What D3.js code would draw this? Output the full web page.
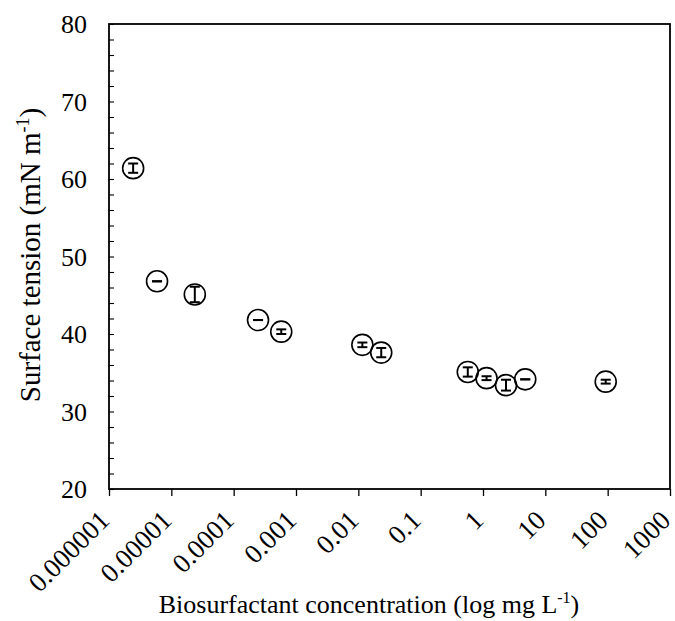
<!DOCTYPE html>
<html>
<head>
<meta charset="utf-8">
<script src="https://cdn.jsdelivr.net/npm/d3@7"></script>
<style>
  body { margin: 0; background: #fff; }
  svg text { font-family: "Liberation Serif", "Times New Roman", serif; fill: #000; }
</style>
</head>
<body>
<div id="chart"></div>
<script>
// concentration (mg/L), surface tension (mN/m) and its error
const concentration = [0.00000244, 0.0000059, 0.0000238, 0.000246, 0.00058, 0.0116, 0.0233, 0.57, 1.14, 2.34, 4.76, 93];
const tension = [61.4, 46.8, 45.1, 41.8, 40.3, 38.6, 37.6, 35.1, 34.3, 33.4, 34.15, 33.85];
const tensionErr = [0.6, 0, 1.0, 0, 0.3, 0.3, 0.6, 0.6, 0.25, 0.7, 0, 0.25];
const xTicks = [0.000001, 0.00001, 0.0001, 0.001, 0.01, 0.1, 1, 10, 100, 1000];
const xTickLabels = ["0.000001", "0.00001", "0.0001", "0.001", "0.01", "0.1", "1", "10", "100", "1000"];
const yTicks = [20, 30, 40, 50, 60, 70, 80];

const W = 675, H = 621;
const margin = { top: 24, right: 5, bottom: 132, left: 109 },
    width = W - margin.left - margin.right,
    height = H - margin.top - margin.bottom;

const svg = d3.select("#chart").append("svg")
    .attr("width", W)
    .attr("height", H)
    .attr("font-family", "'Liberation Serif', 'Times New Roman', serif");

const g = svg.append("g")
    .attr("transform", `translate(${margin.left},${margin.top})`);

const x = d3.scaleLog().domain([0.000001, 1000]).range([0, width]);
const y = d3.scaleLinear().domain([20, 80]).range([height, 0]);

// frame
g.append("rect")
    .attr("width", width).attr("height", height)
    .attr("fill", "none").attr("stroke", "#000").attr("stroke-width", 1.8);

// x axis: ticks outside, rotated labels
const xAxis = g.append("g")
    .attr("transform", `translate(0,${height})`)
    .call(d3.axisBottom(x).tickValues(xTicks).tickSize(7).tickFormat(""));
xAxis.select(".domain").remove();
xAxis.selectAll(".tick line").attr("stroke", "#000").attr("stroke-width", 1.3);

g.append("g").selectAll("text")
    .data(xTicks)
    .join("text")
    .attr("transform", (d) => `translate(${x(d) + 2},${height + 33}) rotate(-45)`)
    .attr("text-anchor", "end")
    .attr("font-size", 27)
    .text((d, i) => xTickLabels[i]);

// y axis: ticks inside every 2 units
const yAxis = g.append("g")
    .call(d3.axisRight(y).tickValues(d3.range(20, 81, 2)).tickSize(5).tickFormat(""));
yAxis.select(".domain").remove();
yAxis.selectAll(".tick line").attr("stroke", "#000").attr("stroke-width", 1.1);

g.append("g").selectAll("text")
    .data(yTicks)
    .join("text")
    .attr("x", -22)
    .attr("y", (d) => y(d))
    .attr("dy", "0.35em")
    .attr("text-anchor", "end")
    .attr("font-size", 26)
    .text((d) => d);

// points with error bars
const pts = g.append("g").selectAll("g")
    .data(concentration.map((c, i) => ({ c, t: tension[i], e: tensionErr[i] })))
    .join("g")
    .attr("transform", (d) => `translate(${x(d.c)},${y(d.t)})`);

pts.append("circle")
    .attr("r", 10.5)
    .attr("fill", "none")
    .attr("stroke", "#000")
    .attr("stroke-width", 1.6);

pts.append("line")
    .attr("y1", (d) => y(d.t - d.e) - y(d.t))
    .attr("y2", (d) => y(d.t + d.e) - y(d.t))
    .attr("stroke", "#000").attr("stroke-width", 2);
pts.append("line")
    .attr("x1", -5).attr("x2", 5)
    .attr("y1", (d) => y(d.t - d.e) - y(d.t))
    .attr("y2", (d) => y(d.t - d.e) - y(d.t))
    .attr("stroke", "#000").attr("stroke-width", 2);
pts.append("line")
    .attr("x1", -5).attr("x2", 5)
    .attr("y1", (d) => y(d.t + d.e) - y(d.t))
    .attr("y2", (d) => y(d.t + d.e) - y(d.t))
    .attr("stroke", "#000").attr("stroke-width", 2);

// axis titles
const xt = svg.append("text")
    .attr("x", 369).attr("y", 613)
    .attr("text-anchor", "middle")
    .attr("font-size", 26);
xt.append("tspan").text("Biosurfactant concentration (log mg L");
xt.append("tspan").attr("font-size", 16).attr("dy", -10).text("-1");
xt.append("tspan").attr("dy", 10).text(")");

const yt = svg.append("text")
    .attr("transform", "translate(40,255) rotate(-90)")
    .attr("text-anchor", "middle")
    .attr("font-size", 29);
yt.append("tspan").text("Surface tension (mN m");
yt.append("tspan").attr("font-size", 18).attr("dy", -11).text("-1");
yt.append("tspan").attr("dy", 11).text(")");
</script>
</body>
</html>
